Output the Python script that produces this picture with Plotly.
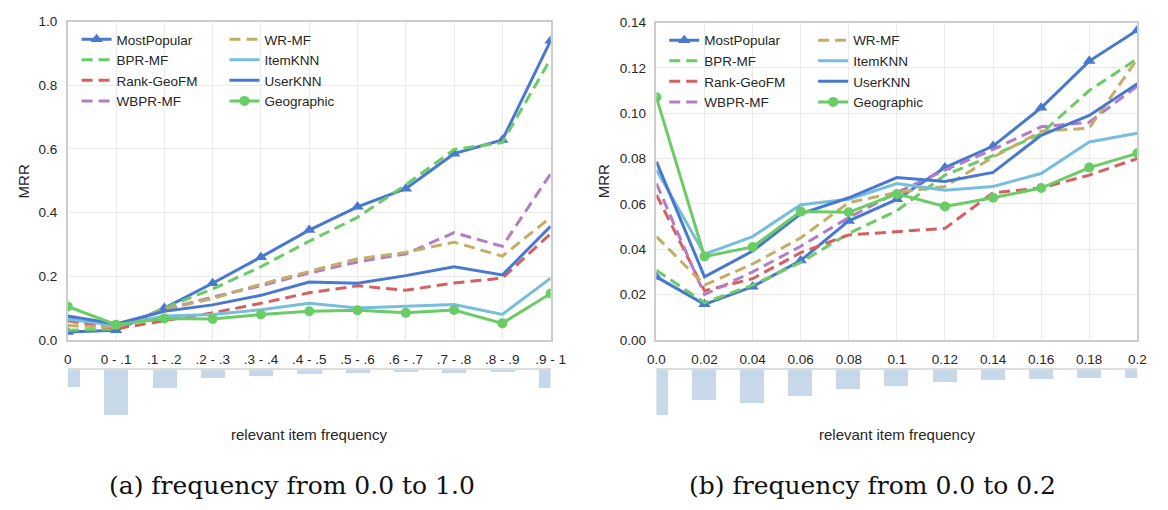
import plotly.graph_objects as go

W, H = 1168, 510

left_bins = ["0", "0 - .1", ".1 - .2", ".2 - .3", ".3 - .4", ".4 - .5",
             ".5 - .6", ".6 - .7", ".7 - .8", ".8 - .9", ".9 - 1"]
right_bins = ["0.0", "0.02", "0.04", "0.06", "0.08", "0.1",
              "0.12", "0.14", "0.16", "0.18", "0.2"]

methods = ["MostPopular", "BPR-MF", "Rank-GeoFM", "WBPR-MF",
           "WR-MF", "ItemKNN", "UserKNN", "Geographic"]

left_mostpopular = [0.025, 0.030, 0.100, 0.178, 0.260, 0.345, 0.418, 0.475, 0.585, 0.628, 0.940]
left_bprmf       = [0.030, 0.035, 0.100, 0.160, 0.230, 0.310, 0.385, 0.487, 0.598, 0.620, 0.883]
left_rankgeofm   = [0.060, 0.035, 0.060, 0.085, 0.115, 0.148, 0.170, 0.156, 0.179, 0.194, 0.334]
left_wbprmf      = [0.070, 0.040, 0.095, 0.135, 0.170, 0.210, 0.245, 0.270, 0.337, 0.294, 0.522]
left_wrmf        = [0.045, 0.040, 0.095, 0.130, 0.175, 0.215, 0.255, 0.275, 0.307, 0.263, 0.385]
left_itemknn     = [0.065, 0.045, 0.075, 0.080, 0.095, 0.115, 0.100, 0.106, 0.111, 0.080, 0.194]
left_userknn     = [0.075, 0.050, 0.090, 0.110, 0.140, 0.182, 0.178, 0.202, 0.230, 0.204, 0.357]
left_geographic  = [0.105, 0.048, 0.067, 0.066, 0.080, 0.090, 0.093, 0.085, 0.094, 0.052, 0.146]

right_mostpopular = [0.0278, 0.0157, 0.0235, 0.0350, 0.0525, 0.0620, 0.0760, 0.0855, 0.1024, 0.1230, 0.1366]
right_bprmf       = [0.0307, 0.0164, 0.0242, 0.0342, 0.0470, 0.0570, 0.0727, 0.0813, 0.0910, 0.1100, 0.1240]
right_rankgeofm   = [0.0640, 0.0217, 0.0270, 0.0385, 0.0463, 0.0478, 0.0492, 0.0649, 0.0670, 0.0727, 0.0800]
right_wbprmf      = [0.0690, 0.0200, 0.0300, 0.0413, 0.0540, 0.0650, 0.0749, 0.0840, 0.0940, 0.0960, 0.1120]
right_wrmf        = [0.0456, 0.0242, 0.0335, 0.0450, 0.0606, 0.0650, 0.0677, 0.0806, 0.0920, 0.0934, 0.1240]
right_itemknn     = [0.0750, 0.0378, 0.0456, 0.0596, 0.0620, 0.0690, 0.0660, 0.0677, 0.0734, 0.0873, 0.0912]
right_userknn     = [0.0787, 0.0278, 0.0392, 0.0556, 0.0627, 0.0716, 0.0699, 0.0739, 0.0902, 0.0990, 0.1130]
right_geographic  = [0.1070, 0.0368, 0.0410, 0.0566, 0.0563, 0.0644, 0.0589, 0.0627, 0.0670, 0.0760, 0.0823]

left_item_share  = [0.177, 0.467, 0.187, 0.080, 0.057, 0.037, 0.027, 0.013, 0.027, 0.013, 0.187]
right_item_share = [0.467, 0.307, 0.337, 0.270, 0.197, 0.167, 0.127, 0.107, 0.097, 0.087, 0.087]

left_series = [left_mostpopular, left_bprmf, left_rankgeofm, left_wbprmf,
               left_wrmf, left_itemknn, left_userknn, left_geographic]
right_series = [right_mostpopular, right_bprmf, right_rankgeofm, right_wbprmf,
                right_wrmf, right_itemknn, right_userknn, right_geographic]

BLUE, GREEN, RED, PURPLE, TAN, LBLUE = "#4878CF", "#6ACC65", "#D65F5F", "#B47CC7", "#C4AD66", "#77BEDB"
DASH = "11px,6px"
styles = {
    "MostPopular": dict(color=BLUE, dash="solid", symbol="triangle-up"),
    "BPR-MF": dict(color=GREEN, dash=DASH, symbol=None),
    "Rank-GeoFM": dict(color=RED, dash=DASH, symbol=None),
    "WBPR-MF": dict(color=PURPLE, dash=DASH, symbol=None),
    "WR-MF": dict(color=TAN, dash=DASH, symbol=None),
    "ItemKNN": dict(color=LBLUE, dash="solid", symbol=None),
    "UserKNN": dict(color=BLUE, dash="solid", symbol=None),
    "Geographic": dict(color=GREEN, dash="solid", symbol="circle"),
}

fig = go.Figure()

def add_lines(xcats, series, xa, ya, leg_a, leg_b):
    for i, (name, vals) in enumerate(zip(methods, series)):
        st = styles[name]
        mode = "lines+markers" if st["symbol"] else "lines"
        tr = dict(x=xcats, y=vals, name=name, mode=mode, xaxis=xa, yaxis=ya,
                  line=dict(color=st["color"], width=3, dash=st["dash"]),
                  legend=leg_a if i < 4 else leg_b)
        if st["symbol"]:
            tr["marker"] = dict(symbol=st["symbol"], size=11 if st["symbol"] == "triangle-up" else 10,
                                color=st["color"], line=dict(width=0))
        fig.add_trace(go.Scatter(**tr))

add_lines(left_bins, left_series, "x", "y", "legend", "legend2")
add_lines(right_bins, right_series, "x2", "y2", "legend3", "legend4")

BAR = "#C7D9E8"
fig.add_trace(go.Bar(x=left_bins, y=left_item_share, xaxis="x3", yaxis="y3", width=0.5,
                     marker=dict(color=BAR, line=dict(width=0)), showlegend=False))
fig.add_trace(go.Bar(x=right_bins, y=right_item_share, xaxis="x4", yaxis="y4", width=0.5,
                     marker=dict(color=BAR, line=dict(width=0)), showlegend=False))

def px(x):
    return x / W

def py(y):
    return 1 - y / H

TXT = "#262626"
tickfont = dict(family="Liberation Sans, Arial, sans-serif", size=13.5, color=TXT)
GRID = "#EBEBEB"
FRAME = "#CCCCCC"

def main_x(dom, cats, anchor):
    return dict(domain=dom, type="category", categoryorder="array", categoryarray=cats,
                range=[0, 10], showgrid=True, gridcolor=GRID, gridwidth=1,
                showline=True, mirror=True, linecolor=FRAME, linewidth=1.6,
                ticks="", tickfont=tickfont, anchor=anchor, zeroline=False,
                ticklabelstandoff=6)

def main_y(dom, rng, dtick, fmt, anchor):
    return dict(domain=dom, range=rng, dtick=dtick, tickformat=fmt, showgrid=True,
                gridcolor=GRID, gridwidth=1, showline=True, mirror=True, linecolor=FRAME,
                linewidth=1.6, ticks="", tickfont=tickfont, anchor=anchor, zeroline=False,
                ticklabelstandoff=6)

def bar_x(dom, cats, anchor):
    return dict(domain=dom, type="category", categoryorder="array", categoryarray=cats,
                range=[0, 10], showgrid=False, showticklabels=False, ticks="",
                side="top", showline=True, linecolor="#DDDDDD", linewidth=2,
                anchor=anchor, zeroline=False)

def bar_y(dom, anchor):
    return dict(domain=dom, range=[0.58, 0], showgrid=False, showticklabels=False,
                ticks="", showline=False, zeroline=False, anchor=anchor)

LX = [px(60), px(553)]
RX = [px(661), px(1152)]
TY = [py(343), py(15)]
TY2 = [py(343), py(16)]
BY = [py(432), py(374)]

legfont = dict(family="Liberation Sans, Arial, sans-serif", size=13.5, color=TXT)

def leg(x, y):
    return dict(x=px(x), y=py(y), xanchor="left", yanchor="top", bgcolor="rgba(0,0,0,0)",
                borderwidth=0, font=legfont, tracegroupgap=0, itemwidth=30)

ann = []
lab = dict(family="Liberation Sans, Arial, sans-serif", size=15, color=TXT)
for x in (15, 607):
    ann.append(dict(text="MRR", x=px(x), y=py(180), xref="paper", yref="paper",
                    showarrow=False, textangle=-90, font=lab, xanchor="center", yanchor="middle"))
for x in (306.5, 906.5):
    ann.append(dict(text="relevant item frequency", x=px(x), y=py(440), xref="paper", yref="paper",
                    showarrow=False, font=lab, xanchor="center", yanchor="middle"))
capfont = dict(family="DejaVu Serif, serif", size=25, color="#111111")
ann.append(dict(text="(a) frequency from 0.0 to 1.0", x=px(289), y=py(493), xref="paper", yref="paper",
                showarrow=False, font=capfont, xanchor="center", yanchor="middle"))
ann.append(dict(text="(b) frequency from 0.0 to 0.2", x=px(881.6), y=py(493), xref="paper", yref="paper",
                showarrow=False, font=capfont, xanchor="center", yanchor="middle"))

fig.update_layout(
    width=W, height=H, margin=dict(l=0, r=0, t=0, b=0),
    paper_bgcolor="white", plot_bgcolor="white",
    xaxis=main_x(LX, left_bins, "y"),
    yaxis=main_y(TY, [0, 1], 0.2, ".1f", "x"),
    xaxis2=main_x(RX, right_bins, "y2"),
    yaxis2=main_y(TY2, [0, 0.14], 0.02, ".2f", "x2"),
    xaxis3=bar_x(LX, left_bins, "y3"),
    yaxis3=bar_y(BY, "x3"),
    xaxis4=bar_x(RX, right_bins, "y4"),
    yaxis4=bar_y(BY, "x4"),
    legend=leg(69, 17.5),
    legend2=leg(220, 17.5),
    legend3=leg(669, 18.5),
    legend4=leg(821, 18.5),
    annotations=ann,
    bargap=0,
)

fig.write_html("out.html")
